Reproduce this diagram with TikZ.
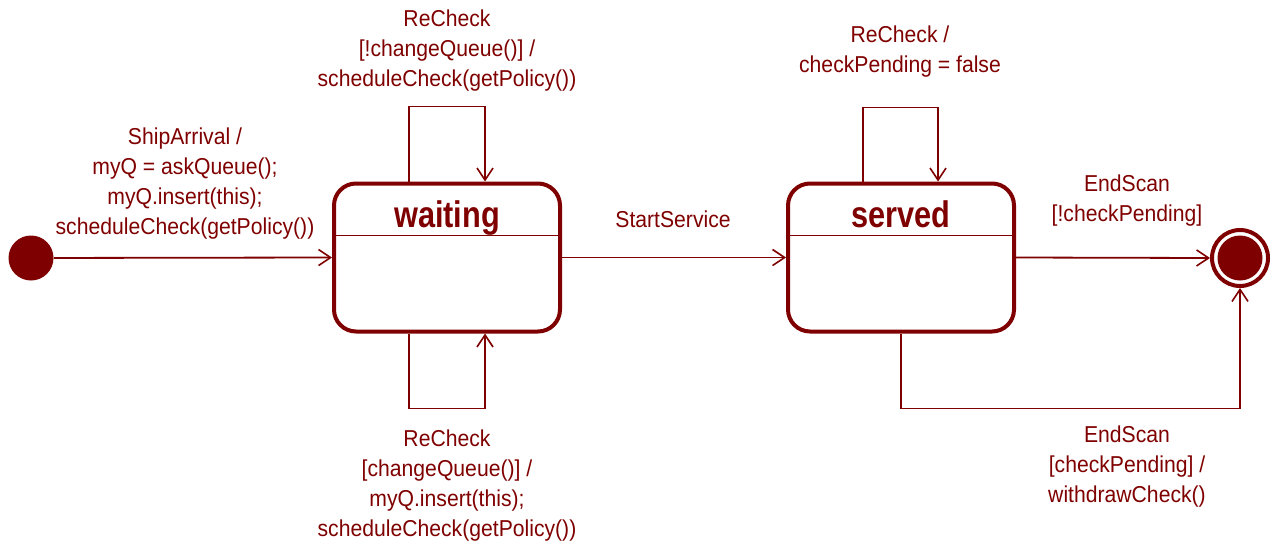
\documentclass[tikz,border=0pt]{standalone}
\usepackage{fontspec}
\setmainfont{Liberation Sans}[FakeStretch=0.92]
\newfontfamily\titlefont{Liberation Sans}[FakeStretch=0.83]
\usetikzlibrary{arrows.meta}

\definecolor{umlred}{HTML}{7F0000}

\tikzset{
  state/.style={draw=umlred, line width=2pt, rounded corners=11pt,
    minimum width=113pt, minimum height=74pt, inner sep=0pt},
  statetitle/.style={anchor=base, text=umlred, inner sep=0pt,
    font=\titlefont\bfseries\fontsize{18.5}{20}\selectfont},
  trans/.style={draw=umlred, line width=0.9pt,
    -{Straight Barb[length=6pt,width=8pt,line width=0.8pt]}},
  loop/.style={trans, line width=0.7pt},
  divider/.style={draw=umlred, line width=0.7pt},
  lbl/.style={align=center, text=umlred, inner sep=0pt,
    font=\fontsize{11.5}{15}\selectfont}
}

\begin{document}
\begin{tikzpicture}[x=0.5pt, y=-0.5pt]
  \useasboundingbox (0,0) rectangle (1273,546);

  % initial and final pseudo states
  \node[circle, fill=umlred, minimum size=22.5pt, inner sep=0pt] (init) at (31,258) {};
  \node[circle, draw=umlred, line width=2pt, minimum size=28pt, inner sep=0pt] (final) at (1240,258) {};
  \node[circle, fill=umlred, minimum size=22.5pt, inner sep=0pt] (finaldot) at (final) {};

  % states
  \node[state] (waiting) at (447,257.5) {};
  \node[state] (served) at (901,257.5) {};
  \node[statetitle] (waitingtitle) at ([yshift=-23pt]waiting.north) {waiting};
  \node[statetitle] (servedtitle) at ([yshift=-23pt]served.north) {served};
  \draw[divider] ([yshift=-27pt]waiting.north west) -- ([yshift=-27pt]waiting.north east);
  \draw[divider] ([yshift=-27pt]served.north west) -- ([yshift=-27pt]served.north east);

  % transitions
  \draw[trans] (init) -- (waiting.west);
  \draw[trans] (waiting.east) -- (served.west);
  \draw[trans] (served.east) -- (final.west);
  \draw[trans] (served.south) -- ++(0,-37.5pt) -| (final.south);

  % self transitions
  \draw[loop] ([xshift=-19pt]waiting.north) -- ++(0,37.5pt) -| ([xshift=19pt]waiting.north);
  \draw[loop] ([xshift=-19pt]waiting.south) -- ++(0,-37.5pt) -| ([xshift=19pt]waiting.south);
  \draw[loop] ([xshift=-19pt]served.north) -- ++(0,37pt) -| ([xshift=18.5pt]served.north);

  % transition labels
  \node[lbl] (shiparrival) at (185,184) {ShipArrival /\\myQ = askQueue();\\myQ.insert(this);\\scheduleCheck(getPolicy())};
  \node[lbl] (recheckup) at (447,51) {ReCheck\\{}[!changeQueue()] /\\scheduleCheck(getPolicy())};
  \node[lbl] (recheckdown) at (447,486) {ReCheck\\{}[changeQueue()] /\\myQ.insert(this);\\scheduleCheck(getPolicy())};
  \node[lbl] (startservice) at (673,219) {StartService};
  \node[lbl] (recheckserved) at (900,52) {ReCheck /\\checkPending = false};
  \node[lbl] (endscanup) at (1127,201) {EndScan\\{}[!checkPending]};
  \node[lbl] (endscandown) at (1127,467) {EndScan\\{}[checkPending] /\\withdrawCheck()};
\end{tikzpicture}
\end{document}
